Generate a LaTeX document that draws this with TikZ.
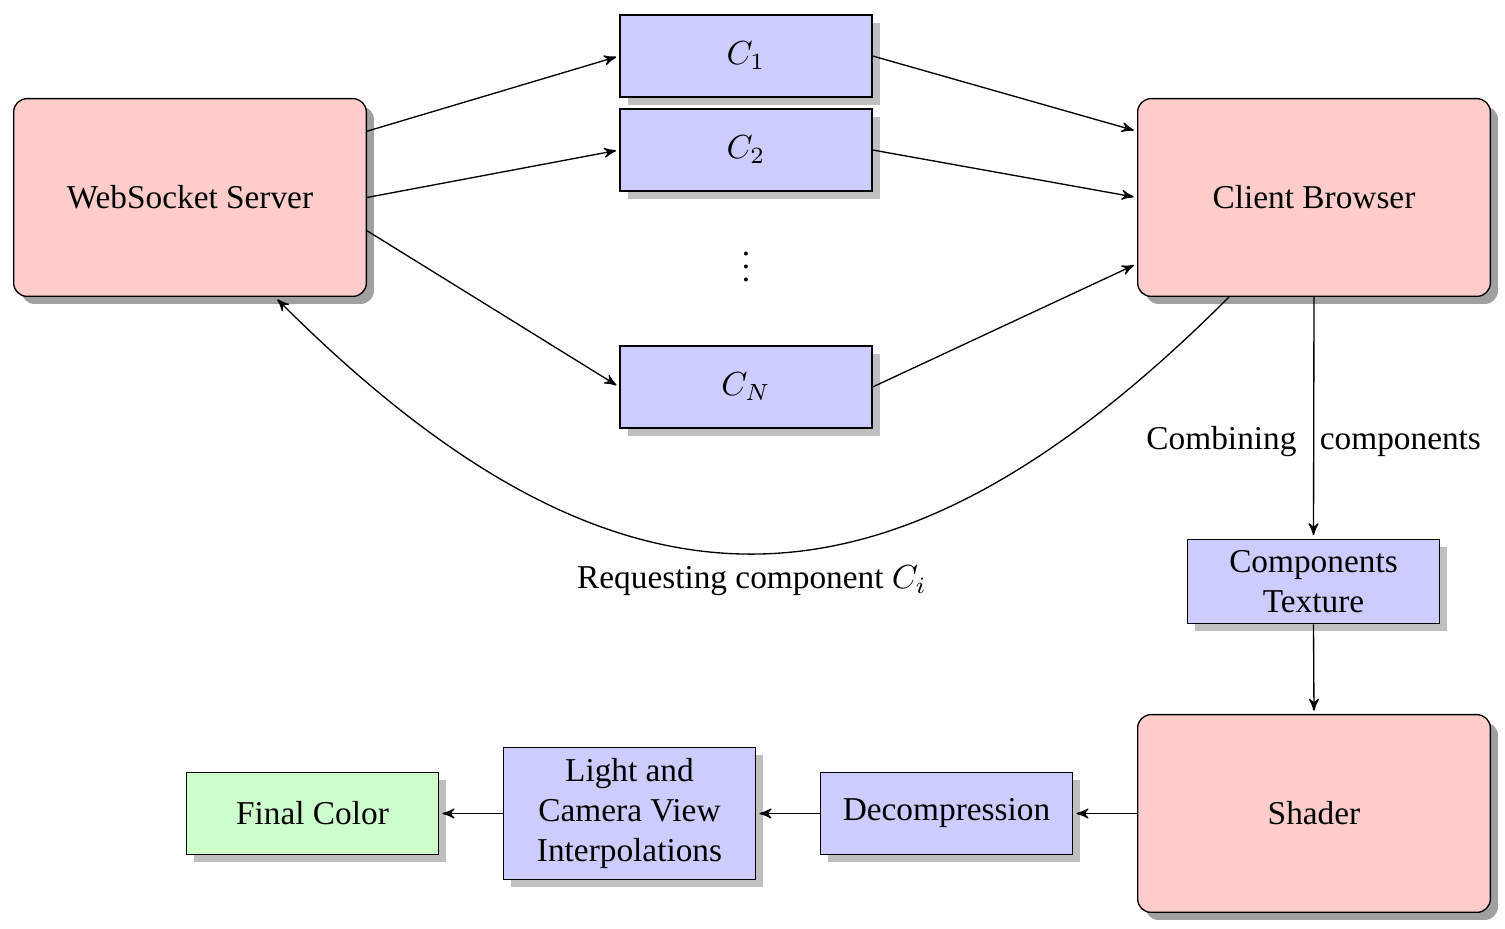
\documentclass[tikz,border=0pt]{standalone}
\usepackage[no-math]{fontspec}
\setmainfont{Liberation Serif}
\usepackage{amsmath,amssymb}
\usetikzlibrary{calc}
\usetikzlibrary{arrows, shadows, positioning}

\tikzset{
  bigbox/.style={draw, rounded corners=4pt, fill=red!20, minimum width=105.8pt,
    minimum height=59.3pt, drop shadow={opacity=.75}},
  compbox/.style={draw, fill=blue!20, minimum width=75.6pt, minimum height=24.6pt,
    align=center, drop shadow},
  outbox/.style={compbox, fill=green!20}
}

\begin{document}
\begin{tikzpicture}[->,>=stealth',shorten >=1pt,x=0.3pt,y=-0.3pt]
  \useasboundingbox (0,0) rectangle (1505,929);

  \node[bigbox]  (ws) at (190,197.5)  {WebSocket Server};
  \node[bigbox]  (cb) at (1314,197.5) {Client Browser};
  \node[bigbox]  (sh) at (1314,813.5) {Shader};

  \node[compbox] (c1) at (746,56)  {$C_{1}$};
  \node[compbox] (c2) at (746,150) {$C_{2}$};
  \node          (dots) at (746,257) {$\vdots$};
  \node[compbox] (cn) at (746,387) {$C_{N}$};

  \node[compbox] (tex)   at (1313.5,581.5) {Components\\Texture};
  \node[compbox] (dec)   at (946.5,813.5)  {Decompression};
  \node[compbox] (light) at (629.5,813.5)  {Light and\\Camera View\\Interpolations};
  \node[outbox]  (fc)    at (312.5,813.5)  {Final Color};

  \draw ($ (ws.north east)!0.167!(ws.south east) $) -- (c1.west);
  \draw (ws.east) -- (c2.west);
  \draw ($ (ws.north east)!0.667!(ws.south east) $) -- (cn.west);

  \draw (c1.east) -- ($ (cb.north west)!0.167!(cb.south west) $);
  \draw (c2.east) -- (cb.west);
  \draw (cn.east) -- ($ (cb.north west)!0.833!(cb.south west) $);

  \draw ($ (cb.south west)!0.26!(cb.south east) $) to[out=-135,in=-45,looseness=1.3]
    node[below=0pt] {Requesting component $C_{i}$}
    ($ (ws.south west)!0.74!(ws.south east) $);

  \draw (cb.south) -- node[pos=0.6] {Combining\hspace{7pt}components} (tex.north);
  \draw (tex.south) -- (sh.north);
  \draw (sh.west) -- (dec.east);
  \draw (dec.west) -- (light.east);
  \draw (light.west) -- (fc.east);
\end{tikzpicture}
\end{document}
